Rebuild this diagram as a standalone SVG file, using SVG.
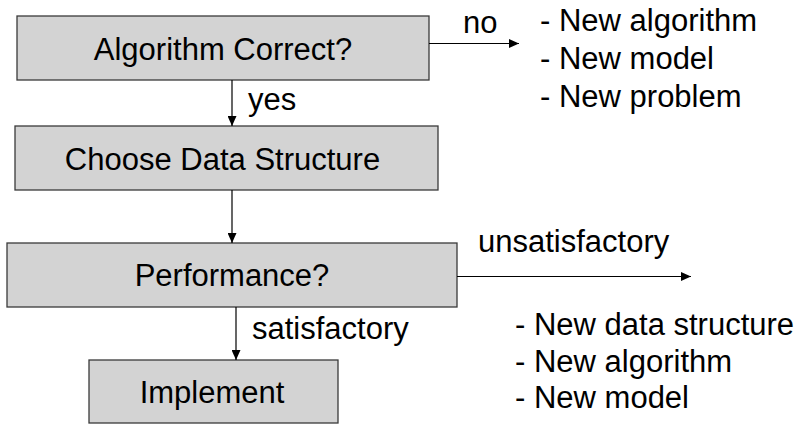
<svg xmlns="http://www.w3.org/2000/svg" width="802" height="425" viewBox="0 0 802 425">
<defs>
<style>
.box{fill:#d3d3d3;stroke:#3a3a3a;stroke-width:1.3}
.t{font-family:"Liberation Sans",Arial,sans-serif;font-size:31px;fill:#000}
.c{stroke:#000;stroke-width:1.2;fill:none}
</style>
<marker id="ah" markerWidth="10" markerHeight="9" refX="10" refY="4.5" orient="auto" markerUnits="userSpaceOnUse">
<path d="M0,0 L10,4.5 L0,9 Z" fill="#000"/>
</marker>
</defs>
<rect width="802" height="425" fill="#fff"/>
<g id="n1"><rect class="box" x="17" y="16" width="412" height="64"/><text class="t" x="223" y="60" text-anchor="middle">Algorithm Correct?</text></g>
<g id="n2"><rect class="box" x="15" y="126" width="423" height="64"/><text class="t" x="222.5" y="170" text-anchor="middle">Choose Data Structure</text></g>
<g id="n3"><rect class="box" x="7" y="243" width="450" height="64"/><text class="t" x="232" y="286" text-anchor="middle">Performance?</text></g>
<g id="n4"><rect class="box" x="89" y="360" width="249" height="63"/><text class="t" x="212" y="403" text-anchor="middle">Implement</text></g>
<g id="connectors">
<line class="c" x1="232" y1="80" x2="232" y2="126" marker-end="url(#ah)"/>
<line class="c" x1="232" y1="190" x2="232" y2="243" marker-end="url(#ah)"/>
<line class="c" x1="236" y1="307" x2="236" y2="360" marker-end="url(#ah)"/>
<line class="c" x1="429" y1="43.5" x2="519" y2="43.5" marker-end="url(#ah)"/>
<line class="c" x1="457" y1="276.5" x2="691" y2="276.5" marker-end="url(#ah)"/>
<text class="t" x="248" y="110">yes</text>
<text class="t" x="463" y="33">no</text>
<text class="t" x="252" y="339">satisfactory</text>
<text class="t" x="478" y="252">unsatisfactory</text>
</g>
<g id="list1">
<text class="t" x="540" y="30.5">- New algorithm</text>
<text class="t" x="540" y="68.5">- New model</text>
<text class="t" x="540" y="106.5">- New problem</text>
</g>
<g id="list2">
<text class="t" x="515" y="335">- New data structure</text>
<text class="t" x="515" y="371.5">- New algorithm</text>
<text class="t" x="515" y="408">- New model</text>
</g>
</svg>
